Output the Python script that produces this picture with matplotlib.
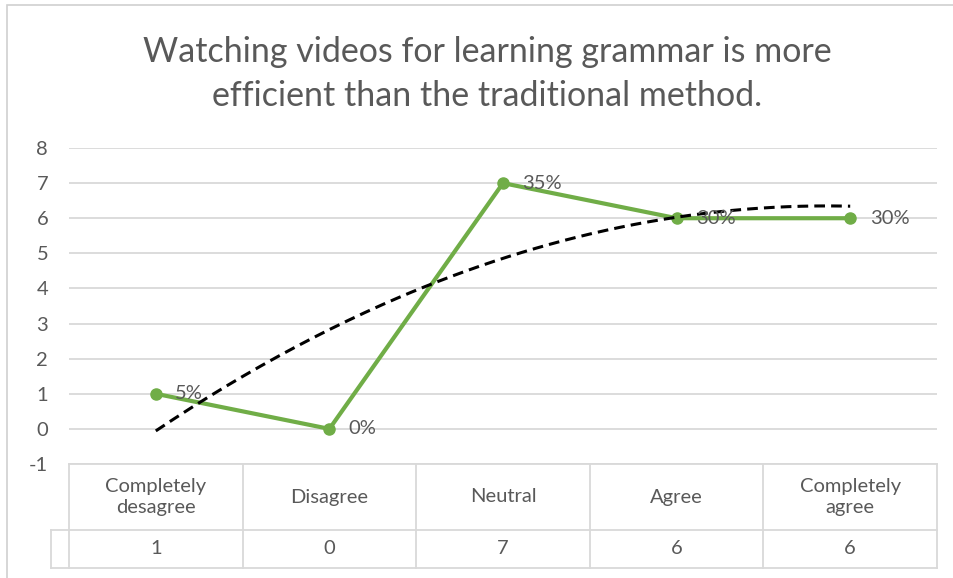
import matplotlib.pyplot as plt
import numpy as np
from matplotlib.patches import Rectangle

categories = ["Completely\ndesagree", "Disagree", "Neutral", "Agree", "Completely\nagree"]
counts = [1, 0, 7, 6, 6]
pct_labels = ["5%", "0%", "35%", "30%", "30%"]
title = "Watching videos for learning grammar is more\nefficient than the traditional method."

plt.rcParams['font.family'] = ['Lato', 'DejaVu Sans']
plt.rcParams['axes.unicode_minus'] = False
W, H = 954, 578
txt = "#595959"
grid_c = "#d9d9d9"

fig = plt.figure(figsize=(W / 100, H / 100), dpi=100)

def frac(x0, y0, x1, y1):
    # pixel box (top-left origin) -> figure fraction
    return [x0 / W, 1 - y1 / H, (x1 - x0) / W, (y1 - y0) / H]

# outer chart border
fig.add_artist(Rectangle((7 / W, -0.1), 1.2, 1 - 5 / H + 0.1, transform=fig.transFigure,
                         fill=False, edgecolor="#d0d0d0", linewidth=1.2))

ax = fig.add_axes(frac(69, 148, 937, 464))
x = np.arange(1, len(counts) + 1)
ax.set_xlim(0.5, len(counts) + 0.5)
ax.set_ylim(-1, 8)
ax.set_yticks(range(-1, 9))
ax.grid(axis="y", color=grid_c, linewidth=1.3)
ax.set_axisbelow(True)
for s in ax.spines.values():
    s.set_visible(False)
ax.set_xticks([])
ax.tick_params(axis="y", length=0, labelsize=14.5, labelcolor=txt, pad=15)

ax.plot(x, counts, color="#70ad47", linewidth=3, marker="o", markersize=8, zorder=3)

# polynomial (order 2) trendline, as in Excel
coef = np.polyfit(x, counts, 2)
xs = np.linspace(1, len(counts), 200)
ax.plot(xs, np.polyval(coef, xs), color="black", linewidth=2.2, linestyle=(0, (3.5, 2)), zorder=4)

for xi, yi, lab in zip(x, counts, pct_labels):
    ax.annotate(lab, (xi, yi), xytext=(14, 0), textcoords="offset points",
                va="center", ha="left", fontsize=14.5, color=txt, zorder=5)

fig.text(487 / W, 1 - 74 / H, title, ha="center", va="center", fontsize=24.5,
         color=txt, linespacing=1.5)

# data table below the axis
tab = fig.add_axes(frac(69, 464, 937, 568))
tab.set_xlim(0.5, len(counts) + 0.5)
tab.set_ylim(0, 104)
tab.axis("off")
lc = dict(color=grid_c, linewidth=1.3, clip_on=False)
stub = 0.5 - 18 / 868 * len(counts)
tab.plot([0.5, 5.5], [104, 104], **lc)
tab.plot([stub, 5.5], [38, 38], **lc)
tab.plot([stub, 5.5], [0, 0], **lc)
tab.plot([stub, stub], [0, 38], **lc)
for b in np.arange(0.5, len(counts) + 1):
    tab.plot([b, b], [0, 104], **lc)
for xi, cat, c in zip(x, categories, counts):
    tab.text(xi, 71, cat, ha="center", va="center", fontsize=14.5, color=txt, linespacing=1.3)
    tab.text(xi, 19, str(c), ha="center", va="center", fontsize=14.5, color=txt)

fig.savefig("out.png", dpi=100)
